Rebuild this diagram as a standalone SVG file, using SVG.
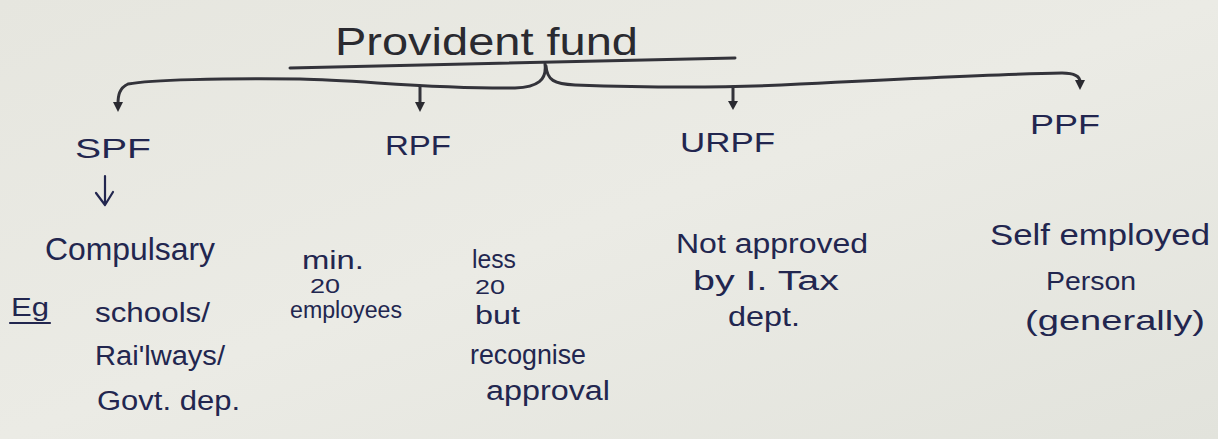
<svg xmlns="http://www.w3.org/2000/svg" width="1218" height="439" viewBox="0 0 1218 439">
<defs>
<style>
.ink{font-family:"Liberation Sans","DejaVu Sans",sans-serif;fill:#22264f}
.ttl{font-family:"Liberation Sans","DejaVu Sans",sans-serif;fill:#2a2a30}
.ln{fill:none;stroke:#33333a;stroke-width:3;stroke-linecap:round}
.pen{fill:none;stroke:#22264f;stroke-width:2.2;stroke-linecap:round;stroke-linejoin:round}
.head{fill:#2a2a30}
</style>
<linearGradient id="bg" x1="0" y1="0" x2="1" y2="1">
<stop offset="0" stop-color="#e6e6df"/>
<stop offset="0.5" stop-color="#ebebe5"/>
<stop offset="1" stop-color="#e2e3dc"/>
</linearGradient>
</defs>
<rect width="1218" height="439" fill="url(#bg)"/>

<g id="connectors">
<path class="ln" d="M290,68 L735,58"/>
<path class="ln" d="M545,64 C547,80 538,87 515,88 C430,89 360,80 300,79 C220,78 150,80 128,84 C119,88 118,96 118,104"/>
<path class="ln" d="M546,66 C547,80 554,84 575,85 C660,88 730,88 800,84 C900,79 1000,74 1062,73 C1077,73 1080,78 1080,82"/>
<path class="ln" d="M420,86 L420,104"/>
<path class="ln" d="M733,87 L733,103"/>
<path class="head" d="M113,102 L118,112 L123,102 Z"/>
<path class="head" d="M415,102 L420,112 L425,102 Z"/>
<path class="head" d="M728,101 L733,110 L738,101 Z"/>
<path class="head" d="M1075,80 L1080,90 L1085,80 Z"/>
<path class="pen" d="M105,176 L105,204 M96,193 L105,205 L113,192"/>
<path class="pen" d="M10,323 L50,323"/>
</g>

<g id="title">
<text class="ttl" x="335" y="55" font-size="38" textLength="303" lengthAdjust="spacingAndGlyphs">Provident fund</text>
</g>

<g id="spf">
<text class="ink" x="75" y="158" font-size="28" textLength="76" lengthAdjust="spacingAndGlyphs">SPF</text>
</g>
<g id="rpf">
<text class="ink" x="385" y="155" font-size="28" textLength="66" lengthAdjust="spacingAndGlyphs">RPF</text>
</g>
<g id="urpf">
<text class="ink" x="680" y="152" font-size="28" textLength="95" lengthAdjust="spacingAndGlyphs">URPF</text>
</g>
<g id="ppf">
<text class="ink" x="1030" y="134" font-size="28" textLength="70" lengthAdjust="spacingAndGlyphs">PPF</text>
</g>

<g id="spf-detail">
<text class="ink" x="45" y="260" font-size="32" textLength="170" lengthAdjust="spacingAndGlyphs">Compulsary</text>
<text class="ink" x="11" y="316" font-size="26" textLength="38" lengthAdjust="spacingAndGlyphs">Eg</text>
<text class="ink" x="95" y="322" font-size="27" textLength="115" lengthAdjust="spacingAndGlyphs">schools/</text>
<text class="ink" x="95" y="365" font-size="27" textLength="130" lengthAdjust="spacingAndGlyphs">Rai'lways/</text>
<text class="ink" x="97" y="410" font-size="27" textLength="143" lengthAdjust="spacingAndGlyphs">Govt. dep.</text>
</g>

<g id="rpf-detail">
<text class="ink" x="302" y="269" font-size="26" textLength="62" lengthAdjust="spacingAndGlyphs">min.</text>
<text class="ink" x="310" y="293" font-size="21" textLength="30" lengthAdjust="spacingAndGlyphs">20</text>
<text class="ink" x="290" y="318" font-size="23" textLength="112" lengthAdjust="spacingAndGlyphs">employees</text>
</g>

<g id="less-detail">
<text class="ink" x="472" y="268" font-size="26" textLength="44" lengthAdjust="spacingAndGlyphs">less</text>
<text class="ink" x="475" y="294" font-size="21" textLength="30" lengthAdjust="spacingAndGlyphs">20</text>
<text class="ink" x="475" y="324" font-size="26" textLength="45" lengthAdjust="spacingAndGlyphs">but</text>
<text class="ink" x="470" y="364" font-size="27" textLength="116" lengthAdjust="spacingAndGlyphs">recognise</text>
<text class="ink" x="486" y="400" font-size="27" textLength="124" lengthAdjust="spacingAndGlyphs">approval</text>
</g>

<g id="urpf-detail">
<text class="ink" x="676" y="253" font-size="27" textLength="192" lengthAdjust="spacingAndGlyphs">Not approved</text>
<text class="ink" x="693" y="290" font-size="27" textLength="146" lengthAdjust="spacingAndGlyphs">by I. Tax</text>
<text class="ink" x="728" y="326" font-size="27" textLength="72" lengthAdjust="spacingAndGlyphs">dept.</text>
</g>

<g id="ppf-detail">
<text class="ink" x="990" y="245" font-size="29" textLength="220" lengthAdjust="spacingAndGlyphs">Self employed</text>
<text class="ink" x="1046" y="290" font-size="26" textLength="90" lengthAdjust="spacingAndGlyphs">Person</text>
<text class="ink" x="1025" y="330" font-size="28" textLength="180" lengthAdjust="spacingAndGlyphs">(generally)</text>
</g>
</svg>
